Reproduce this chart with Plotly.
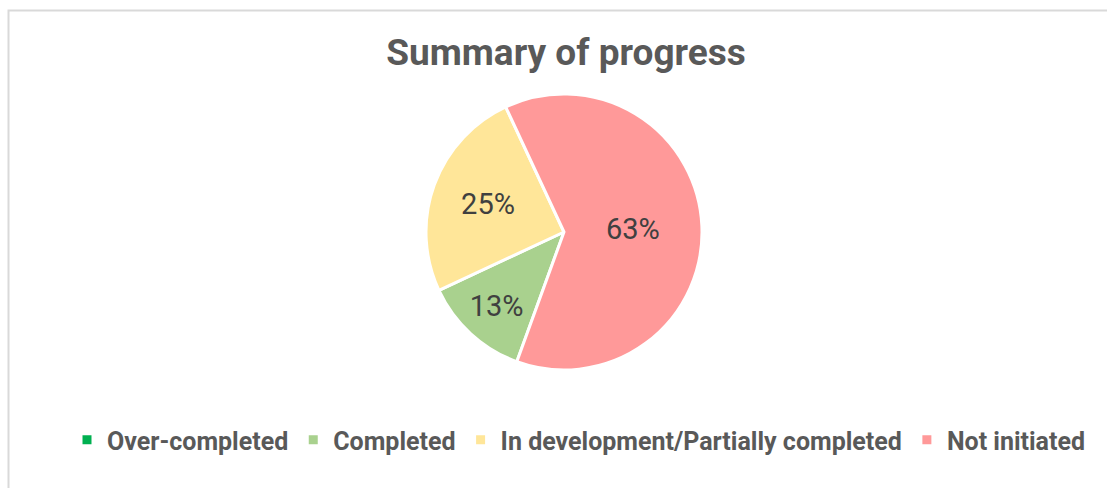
import plotly.graph_objects as go

categories = ["Over-completed", "Completed", "In development/Partially completed", "Not initiated"]
counts = [0, 1, 2, 5]
colors = ["#00B050", "#A9D18E", "#FFE699", "#FF9999"]

W, H = 1107, 488
cx, cy, r = 564, 232, 138

fig = go.Figure(go.Pie(
    labels=categories,
    values=counts,
    sort=False,
    direction="clockwise",
    rotation=200,
    marker=dict(colors=colors, line=dict(color="white", width=3)),
    texttemplate=["" if v == 0 else "%{percent:.0%}" for v in counts],
    textposition="inside",
    insidetextorientation="horizontal",
    textfont=dict(family="Roboto", size=29, color="#404040"),
    hoverinfo="label+percent",
    domain=dict(x=[(cx - r) / W, (cx + r) / W], y=[1 - (cy + r) / H, 1 - (cy - r) / H]),
))

fig.update_layout(
    width=W, height=H,
    margin=dict(l=0, r=0, t=0, b=0),
    paper_bgcolor="white",
    title=dict(text="<b>Summary of progress</b>", x=566 / W, xanchor="center",
               y=1 - 52 / H, yanchor="middle",
               font=dict(family="Roboto", size=37, color="#595959")),
    showlegend=True,
    legend=dict(orientation="h", x=579 / W, xanchor="center", y=1 - 440 / H, yanchor="middle",
                font=dict(family="Roboto", size=25, color="#595959", weight="bold"),
                itemwidth=30, traceorder="normal"),
    shapes=[dict(type="rect", xref="paper", yref="paper", x0=8.5 / W, x1=1.05, y0=-0.05, y1=1 - 10.5 / H,
                 line=dict(color="#D9D9D9", width=2), fillcolor="rgba(0,0,0,0)", layer="below")],
)

fig.write_html("out.html")
